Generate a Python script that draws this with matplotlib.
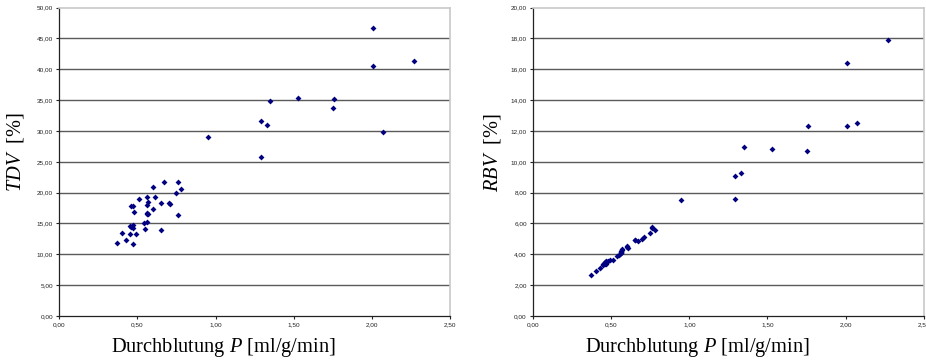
import matplotlib
matplotlib.use("Agg")
import matplotlib.pyplot as plt
from matplotlib.ticker import FuncFormatter

plt.rcParams['mathtext.fontset'] = 'custom'
plt.rcParams['mathtext.rm'] = 'Liberation Serif'
plt.rcParams['mathtext.it'] = 'Liberation Serif:italic'

# Perfusion P [ml/g/min] with the two measured volume fractions
perfusion = [0.37, 0.40, 0.43, 0.45, 0.45, 0.46, 0.47, 0.47, 0.47, 0.46,
             0.47, 0.48, 0.49, 0.51, 0.54, 0.55, 0.56, 0.56, 0.56, 0.56,
             0.57, 0.56, 0.57, 0.60, 0.60, 0.61, 0.65, 0.65, 0.67, 0.70,
             0.71, 0.75, 0.76, 0.78, 0.76, 0.95, 1.29, 1.29, 1.33, 1.35,
             1.53, 1.75, 1.76, 2.01, 2.01, 2.07, 2.27]
tdv = [11.9, 13.5, 12.3, 13.3, 14.6, 14.5, 14.8, 14.2, 11.7, 17.8,
       17.9, 16.9, 13.3, 18.9, 15.0, 14.1, 15.3, 19.3, 18.0, 16.7,
       16.5, 16.6, 18.5, 20.9, 17.3, 19.3, 18.4, 14.0, 21.7, 18.4,
       18.2, 20.0, 21.7, 20.6, 16.4, 29.0, 31.6, 25.7, 31.0, 34.8,
       35.3, 33.8, 35.2, 46.7, 40.5, 29.9, 41.3]
rbv = [2.66, 2.92, 3.11, 3.28, 3.35, 3.40, 3.48, 3.44, 3.38, 3.52,
       3.58, 3.55, 3.62, 3.66, 3.89, 3.95, 4.07, 4.12, 4.10, 4.18,
       4.25, 4.20, 4.33, 4.52, 4.48, 4.39, 4.93, 4.90, 4.86, 5.02,
       5.13, 5.36, 5.75, 5.58, 5.70, 7.55, 9.05, 7.60, 9.28, 10.98,
       10.85, 10.72, 12.30, 16.40, 12.30, 12.52, 17.92]

x_ticks = [0.0, 0.5, 1.0, 1.5, 2.0, 2.5]
tdv_ticks = [0, 5, 10, 15, 20, 25, 30, 35, 40, 45, 50]
rbv_ticks = [0, 2, 4, 6, 8, 10, 12, 14, 16, 18, 20]

comma = FuncFormatter(lambda v, pos: f"{v:.2f}".replace('.', ','))

fig = plt.figure(figsize=(9.26, 3.62), dpi=100)
ax1 = fig.add_axes([0.064, 0.127, 0.422, 0.852])
ax2 = fig.add_axes([0.5756, 0.127, 0.422, 0.852])


def style(ax, y, yticks, ylabel, ylab_x):
    ax.scatter(perfusion, y, marker='D', s=9, color='#000080',
               linewidths=0, zorder=3)
    ax.set_xlim(0, 2.5)
    ax.set_ylim(yticks[0], yticks[-1])
    ax.set_xticks(x_ticks)
    ax.set_yticks(yticks)
    ax.xaxis.set_major_formatter(comma)
    ax.yaxis.set_major_formatter(comma)
    ax.tick_params(axis='both', labelsize=4.6, length=2.5, width=0.8,
                   color='#222222', labelcolor='#222222', pad=2)
    for lbl in ax.get_xticklabels() + ax.get_yticklabels():
        lbl.set_family('Liberation Sans')
    ax.grid(axis='y', color='#5a5a5a', linewidth=1.0)
    ax.set_axisbelow(True)
    ax.yaxis.get_gridlines()[-1].set_visible(False)
    ax.yaxis.get_gridlines()[0].set_visible(False)
    for side in ('top', 'right'):
        ax.spines[side].set_color('#c8c8c8')
        ax.spines[side].set_linewidth(1.2)
    for side in ('left', 'bottom'):
        ax.spines[side].set_color('#222222')
        ax.spines[side].set_linewidth(0.9)
    ax.set_xlabel(r'Durchblutung $\mathit{P}$ [ml/g/min]',
                  family='Liberation Serif', fontsize=14.7)
    ax.xaxis.set_label_coords(0.42, -0.065)
    ax.set_ylabel(ylabel, family='Liberation Serif', fontsize=14.7)
    ax.yaxis.set_label_coords(ylab_x, 0.53)


style(ax1, tdv, tdv_ticks, r'$\mathit{TDV}$  [%]', -0.085)
style(ax2, rbv, rbv_ticks, r'$\mathit{RBV}$  [%]', -0.077)

fig.savefig('out.png', dpi=100)
